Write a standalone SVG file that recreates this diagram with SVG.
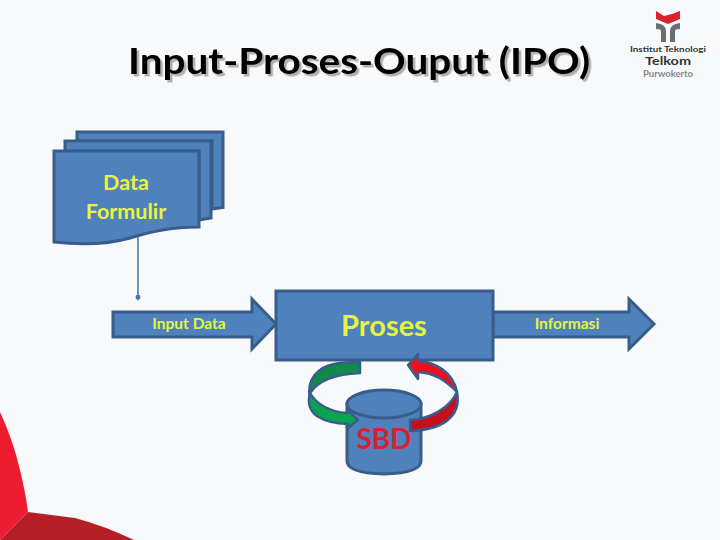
<svg xmlns="http://www.w3.org/2000/svg" width="720" height="540" viewBox="0 0 720 540">
<defs>
<style>
.s{fill:#4f81bd;stroke:#385d8a;stroke-width:3;stroke-linejoin:miter}
.t{font-family:"Lato","Open Sans",sans-serif;font-weight:700}
.y{fill:#e6f53c;text-anchor:middle}
.logo{font-family:"Lato","Open Sans",sans-serif;font-weight:700;text-anchor:middle}
</style>
<filter id="sh" x="-5%" y="-20%" width="110%" height="140%"><feDropShadow dx="2.500" dy="2.500" stdDeviation="0.6" flood-color="#000" flood-opacity="0.3"/></filter>
<marker id="dot" markerUnits="userSpaceOnUse" markerWidth="6" markerHeight="6" refX="3" refY="3" orient="auto"><path d="M0 1.200L3 0.500L5.500 3L3 5.500L0 4.800Z" fill="#4a72a5"/></marker>
</defs>
<rect width="720" height="540" fill="#f8f9fa"/>
<g id="decor">
<path d="M0 412Q13 440 20 470Q26 495 28 512L0 540Z" fill="#ed1c2e"/>
<path d="M28 512L75 518Q105 526 134 540L0 540Z" fill="#b71f28"/>
</g>
<g id="title"><text class="t" x="359" y="74" font-size="36" text-anchor="middle" fill="#000" filter="url(#sh)" textLength="462" lengthAdjust="spacingAndGlyphs">Input-Proses-Ouput (IPO)</text></g>
<g id="logo">
<path d="M656 11L664 16L672 14L680 11L680 19L668 24L656 19Z" fill="#d9242f"/>
<path d="M656 23Q666 24 666 31V42H661V31Q661 29 656 29ZM680 23Q670 24 670 31V42H675V31Q675 29 680 29Z" fill="#6d6e70"/>
<text class="logo" x="668" y="52" font-size="7" fill="#333" textLength="76" lengthAdjust="spacingAndGlyphs">Institut Teknologi</text>
<text class="logo" x="668" y="65" font-size="11.500" fill="#333" textLength="46" lengthAdjust="spacingAndGlyphs">Telkom</text>
<text class="logo" x="668" y="77" font-size="8.500" fill="#888" font-weight="400" textLength="50" lengthAdjust="spacingAndGlyphs">Purwokerto</text>
</g>
<g id="connectors">
<path d="M138 236V298" fill="none" stroke="#4a72a5" stroke-width="1.500" marker-end="url(#dot)"/>
</g>
<g id="data-formulir">
<path class="s" d="M77 132H223V207.500L212 209V141H77Z"/>
<path class="s" d="M65 141H211V218L199 220V151H65Z"/>
<path class="s" d="M54 151H199V227C170 227 150 232 130 238C105 245 80 245 54 242Z"/>
<text class="t y" x="126" y="190" font-size="21.500">Data</text>
<text class="t y" x="126" y="219" font-size="21.500">Formulir</text>
</g>
<g id="input-data">
<path class="s" d="M113 312H252V299L276 324L252 349V337H113Z"/>
<text class="t y" x="189" y="329" font-size="15.500">Input Data</text>
</g>
<g id="informasi">
<path class="s" d="M493 312H629V299L654 324L629 349V337H493Z"/>
<text class="t y" x="567" y="329" font-size="15.500">Informasi</text>
</g>
<g id="sbd">
<path class="s" d="M347 404V461Q347 473 384 474Q421 473 421 461V404Z"/>
<ellipse class="s" cx="384" cy="404" rx="37" ry="14"/>
<text class="t" x="384" y="449" font-size="28" text-anchor="middle" fill="#dc1f2e">SBD</text>
</g>
<g id="proses">
<rect class="s" x="276" y="291" width="217" height="69"/>
<text class="t y" x="384" y="336" font-size="29">Proses</text>
</g>
<g id="arrows" stroke="#385d8a" stroke-width="2.500" stroke-linejoin="round">
<path d="M360 362V373C335 374 318 381 310 393V398C306 380 318 367 334 364C342 362 350 362 360 362Z" fill="#0f8a48"/>
<path d="M310 393C316 404 330 412 347 413V410L358 420L348 428V424C325 423 304 416 310 393Z" fill="#0aa550"/>
<path d="M408 365L418 354V361C435 362 453 372 457 392C446 381 435 373 418 372V379Z" fill="#f00d1e"/>
<path d="M457 392C450 408 430 419 410 420V431C440 430 462 418 457 392Z" fill="#c4101e"/>
</g>
</svg>
